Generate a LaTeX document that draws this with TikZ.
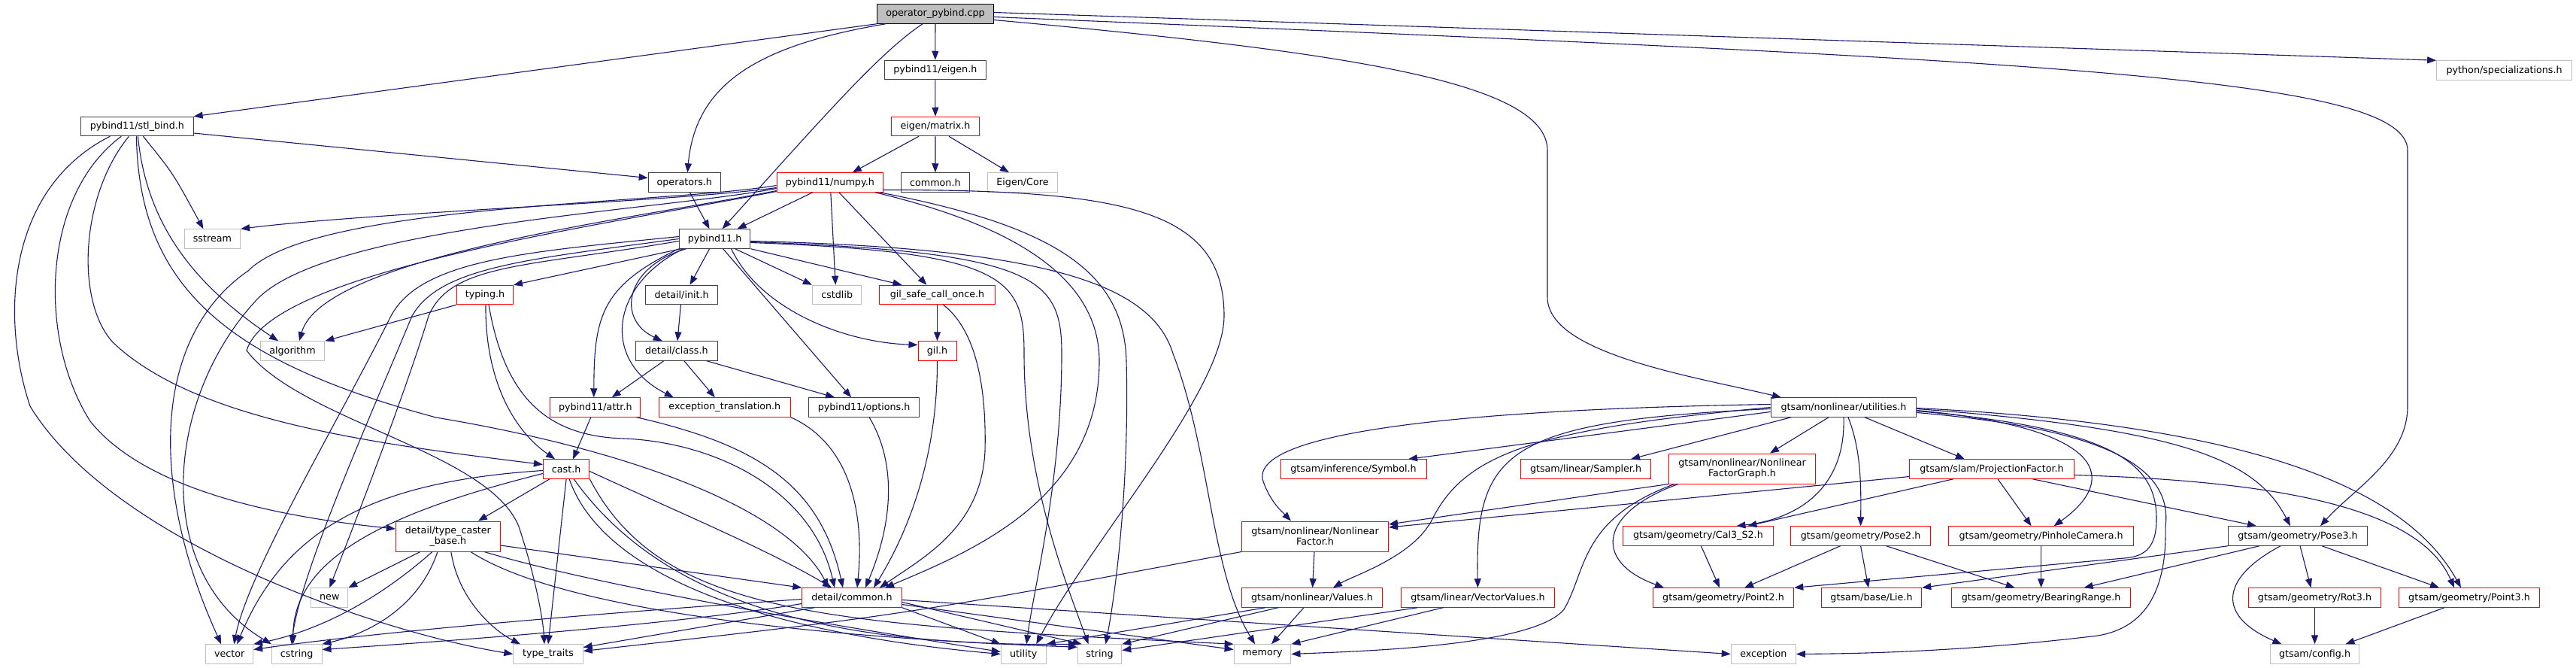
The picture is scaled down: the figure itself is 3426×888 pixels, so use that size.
\documentclass[tikz,border=0pt]{standalone}
\usepackage{fontspec}
\setmainfont{DejaVu Sans}
\usetikzlibrary{arrows.meta}
\definecolor{edgeblue}{HTML}{191970}
\definecolor{docgray}{HTML}{404040}
\definecolor{extgray}{HTML}{BFBFBF}
\definecolor{truncred}{HTML}{FF0000}
\tikzset{
	filebox/.style={rectangle, draw=docgray, fill=white, line width=1pt, inner sep=0pt,
		minimum height=25.5pt, align=center, font={\fontsize{12.7}{14}\selectfont}},
	rootbox/.style={filebox, draw=black, fill=extgray},
	redbox/.style={filebox, draw=truncred},
	extbox/.style={filebox, draw=extgray},
	incl/.style={-{Triangle[length=12pt, width=9pt]}, draw=edgeblue, line width=1.1pt}
}
\begin{document}
\begin{tikzpicture}[x=1pt, y=-1pt]
			\useasboundingbox (0,0) rectangle (3426,888);
			\fill[white] (0,0) rectangle (3426,888);
			% pybind11 side
			\node[rootbox, minimum width=155pt] (op) at (1244,18.5) {operator\_pybind.cpp};
			\node[filebox, minimum width=135pt] (eigenh) at (1243.8,93) {pybind11/eigen.h};
			\node[extbox, minimum width=180pt] (spec) at (3330.6,93.5) {python/specializations.h};
			\node[filebox, minimum width=149.5pt] (stlbind) at (182.4,168) {pybind11/stl\_bind.h};
			\node[redbox, minimum width=117.7pt] (matrix) at (1244,168) {eigen/matrix.h};
			\node[filebox, minimum width=96.2pt] (operators) at (910.3,242.5) {operators.h};
			\node[redbox, minimum width=141.3pt] (numpy) at (1103.8,242.5) {pybind11/numpy.h};
			\node[filebox, minimum width=91pt] (commonh) at (1243.9,242.5) {common.h};
			\node[extbox, minimum width=92.4pt] (eigencore) at (1360,242.5) {Eigen/Core};
			\node[extbox, minimum width=74.4pt] (sstream) at (282.4,317.5) {sstream};
			\node[filebox, minimum width=94.7pt] (pybind) at (950.6,317.5) {pybind11.h};
			\node[redbox, minimum width=75pt] (typing) at (645,392) {typing.h};
			\node[filebox, minimum width=96.2pt] (dinit) at (906.6,392) {detail/init.h};
			\node[extbox, minimum width=65.5pt] (cstdlib) at (1113.2,392) {cstdlib};
			\node[redbox, minimum width=154pt] (gilsafe) at (1246.5,392) {gil\_safe\_call\_once.h};
			\node[extbox, minimum width=85.8pt] (algorithm) at (389,466.5) {algorithm};
			\node[filebox, minimum width=108.4pt] (dclass) at (899.8,466.5) {detail/class.h};
			\node[redbox, minimum width=51pt] (gil) at (1246.5,466.5) {gil.h};
			\node[redbox, minimum width=120.3pt] (attr) at (791.8,541.5) {pybind11/attr.h};
			\node[redbox, minimum width=175pt] (exctrans) at (963.8,541.5) {exception\_translation.h};
			\node[filebox, minimum width=146.8pt] (options) at (1149.1,541.5) {pybind11/options.h};
			\node[redbox, minimum width=61.4pt] (cast) at (753.1,623.5) {cast.h};
			\node[redbox, minimum width=139pt, minimum height=40pt] (tcb) at (595.9,713) {detail/type\_caster\\\_base.h};
			\node[redbox, minimum width=132.4pt] (dcommon) at (1133,794.5) {detail/common.h};
			\node[extbox, minimum width=48.8pt] (newh) at (438.3,794.5) {new};
			\node[extbox, minimum width=62.9pt] (vector) at (305.2,869.5) {vector};
			\node[extbox, minimum width=66.6pt] (cstring) at (394.7,869.5) {cstring};
			\node[extbox, minimum width=92.5pt] (tt) at (729,869.5) {type\_traits};
			\node[extbox, minimum width=60pt] (utility) at (1361.2,869.5) {utility};
			\node[extbox, minimum width=58.5pt] (strh) at (1462.5,869.5) {string};
			\node[extbox, minimum width=75.8pt] (memory) at (1679,869.5) {memory};
			\node[extbox, minimum width=86.2pt] (exception) at (2345.3,869.5) {exception};
			% gtsam side
			\node[filebox, minimum width=193.8pt] (util) at (2452,541.5) {gtsam/nonlinear/utilities.h};
			\node[redbox, minimum width=194pt] (symbol) at (1800,623.5) {gtsam/inference/Symbol.h};
			\node[redbox, minimum width=173pt] (sampler) at (2109,623.5) {gtsam/linear/Sampler.h};
			\node[redbox, minimum width=194.6pt, minimum height=40pt] (nfg) at (2317,623) {gtsam/nonlinear/Nonlinear\\FactorGraph.h};
			\node[redbox, minimum width=218.2pt] (proj) at (2649,623.5) {gtsam/slam/ProjectionFactor.h};
			\node[redbox, minimum width=195pt, minimum height=40pt] (nlf) at (1749,713) {gtsam/nonlinear/Nonlinear\\Factor.h};
			\node[redbox, minimum width=199.3pt] (cal3) at (2258.4,712.5) {gtsam/geometry/Cal3\_S2.h};
			\node[redbox, minimum width=185.7pt] (pose2) at (2474.6,712.5) {gtsam/geometry/Pose2.h};
			\node[redbox, minimum width=245.6pt] (pinhole) at (2714.6,712.5) {gtsam/geometry/PinholeCamera.h};
			\node[filebox, minimum width=185.3pt] (pose3) at (3056,712.5) {gtsam/geometry/Pose3.h};
			\node[redbox, minimum width=187pt] (values) at (1745,794.5) {gtsam/nonlinear/Values.h};
			\node[redbox, minimum width=203.8pt] (vecvalues) at (1965.4,794.5) {gtsam/linear/VectorValues.h};
			\node[redbox, minimum width=187.5pt] (point2) at (2292,794.5) {gtsam/geometry/Point2.h};
			\node[redbox, minimum width=133.5pt] (lie) at (2489,794.5) {gtsam/base/Lie.h};
			\node[redbox, minimum width=238.2pt] (bearing) at (2714.6,794.5) {gtsam/geometry/BearingRange.h};
			\node[redbox, minimum width=176.4pt] (rot3) at (3078.5,794.5) {gtsam/geometry/Rot3.h};
			\node[redbox, minimum width=187.2pt] (point3) at (3284,794.5) {gtsam/geometry/Point3.h};
			\node[extbox, minimum width=118.8pt] (config) at (3078.5,869.5) {gtsam/config.h};
			% root
			\draw[incl] (op.south west) -- (stlbind.north east);
			\draw[incl] ([xshift=12pt]op.south west) .. controls (1010,60) and (925,110) .. ([xshift=4pt]operators.north);
			\draw[incl] ([xshift=-17pt]op.south) .. controls (1170,70) and (1100,150) .. ([xshift=10pt]pybind.north);
			\draw[incl] (op) -- (eigenh);
			\draw[incl] ([yshift=2pt]op.east) -- (spec.north west);
			\draw[incl] ([yshift=-8pt]op.east) .. controls (1800,70) and (2058,110) .. (2058,200) -- (2058,395) .. controls (2058,470) and (2250,500) .. ([xshift=-83pt]util.north);
			\draw[incl] ([yshift=-4pt]op.east) .. controls (2700,80) and (3202,100) .. (3202,200) -- (3202,540) .. controls (3202,610) and (3130,650) .. ([xshift=30pt]pose3.north);
			\draw[incl] (eigenh) -- (matrix);
			\draw[incl] ([xshift=-22pt]matrix.south) -- ([xshift=30pt]numpy.north);
			\draw[incl] (matrix) -- (commonh);
			\draw[incl] ([xshift=18pt]matrix.south) -- ([xshift=-18pt]eigencore.north);
			\draw[incl] (operators) -- (pybind);
			% stl_bind
			\draw[incl] ([yshift=-9pt]stlbind.east) -- ([yshift=6pt]operators.west);
			\draw[incl] ([xshift=8pt]stlbind.south) .. controls (230,230) .. ([xshift=-12pt]sstream.north);
			\draw[incl] ([xshift=1pt]stlbind.south) .. controls (195,300) and (260,380) .. ([xshift=-19pt]algorithm.north);
			\draw[incl] ([xshift=-1pt]stlbind.south) .. controls (185,380) and (300,480) .. (580,555) .. controls (850,600) and (1050,680) .. ([xshift=-31pt]dcommon.north);
			\draw[incl] ([xshift=-11pt]stlbind.south) .. controls (107,260) and (100,400) .. (150,455) .. controls (260,560) and (500,590) .. ([yshift=6pt]cast.west);
			\draw[incl] ([xshift=-21pt]stlbind.south) .. controls (55,260) and (50,450) .. (120,560) .. controls (200,660) and (400,690) .. ([yshift=10pt]tcb.west);
			\draw[incl] ([xshift=-36pt]stlbind.south) .. controls (10,250) and (0,420) .. (40,540) .. controls (150,720) and (500,840) .. (tt.west);
			% numpy
			\draw[incl] ([xshift=-23pt]numpy.south) -- ([xshift=30pt]pybind.north);
			\draw[incl] ([xshift=1pt]numpy.south) -- ([xshift=-2pt]cstdlib.north);
			\draw[incl] ([xshift=12pt]numpy.south) -- ([xshift=-14pt]gilsafe.north);
			\draw[incl] ([yshift=-7pt]numpy.west) .. controls (900,268) and (500,282) .. (sstream.north east);
			\draw[incl] ([yshift=-11pt]numpy.west) .. controls (850,290) and (430,340) .. ([xshift=9pt]algorithm.north);
			\draw[incl] ([yshift=-4pt]numpy.west) .. controls (880,272) and (420,270) .. (330,360) .. controls (200,450) and (200,650) .. ([xshift=-11pt]vector.north);
			\draw[incl] ([yshift=-8pt]numpy.west) .. controls (880,280) and (430,300) .. (340,400) .. controls (220,530) and (200,760) .. (cstring.north west);
			\draw[incl] ([yshift=-12pt]numpy.west) .. controls (800,300) and (360,360) .. (328,466) .. controls (400,560) and (650,600) .. (690,700) .. controls (710,760) and (722,820) .. ([xshift=-5pt]tt.north);
			\draw[incl] ([yshift=-10pt]numpy.east) .. controls (1500,252) and (1628,280) .. (1628,420) .. controls (1628,520) and (1450,720) .. ([xshift=17pt]utility.north);
			\draw[incl] ([xshift=66pt]numpy.south) .. controls (1400,300) and (1495,360) .. (1498,480) .. controls (1502,640) and (1485,780) .. ([xshift=8pt]strh.north);
			\draw[incl] ([xshift=60pt]numpy.south) .. controls (1350,300) and (1462,370) .. (1462,480) .. controls (1462,660) and (1300,730) .. ([xshift=44pt]dcommon.north);
			% pybind11.h
			\draw[incl] ([xshift=3pt]pybind.south west) -- (typing.north east);
			\draw[incl] ([xshift=-7pt]pybind.south) -- ([xshift=11pt]dinit.north);
			\draw[incl] ([xshift=-38pt]pybind.south) .. controls (830,355) and (820,425) .. ([xshift=-19pt]dclass.north);
			\draw[incl] (pybind.south west) .. controls (800,380) and (790,420) .. ([xshift=-2pt]attr.north);
			\draw[incl] ([xshift=-42pt]pybind.south) .. controls (810,380) and (800,480) .. ([xshift=-68pt]exctrans.north);
			\draw[incl] ([xshift=11pt]pybind.south) -- ([xshift=-17pt]options.north);
			\draw[incl] ([xshift=22pt]pybind.south) .. controls (1010,410) and (1120,455) .. ([yshift=8pt]gil.west);
			\draw[incl] (pybind.south east) -- ([xshift=-47pt]gilsafe.north);
			\draw[incl] ([xshift=27pt]pybind.south) -- (cstdlib.north west);
			\draw[incl] ([yshift=3pt]pybind.west) .. controls (700,335) and (560,345) .. (520,420) .. controls (450,560) and (330,760) .. ([xshift=6pt]vector.north);
			\draw[incl] (pybind.west) .. controls (700,345) and (585,355) .. (548,420) .. controls (490,560) and (400,760) .. ([xshift=-7pt]cstring.north);
			\draw[incl] ([yshift=-3pt]pybind.west) .. controls (700,355) and (600,350) .. (570,420) .. controls (540,520) and (470,700) .. (newh.north);
			\draw[incl] ([yshift=-3pt]pybind.east) .. controls (1400,330) and (1532,380) .. (1560,470) .. controls (1610,600) and (1610,760) .. ([xshift=-10pt]memory.north);
			\draw[incl] ([yshift=-5pt]pybind.east) .. controls (1340,335) and (1362,370) .. (1362,470) .. controls (1362,640) and (1420,780) .. ([xshift=-15pt]strh.north);
			\draw[incl] ([yshift=-4pt]pybind.east) .. controls (1380,335) and (1412,370) .. (1412,470) .. controls (1412,640) and (1375,780) .. ([xshift=4pt]utility.north);
			% typing, detail, gil
			\draw[incl] (typing.south west) -- (algorithm.north east);
			\draw[incl] ([xshift=1pt]typing.south) .. controls (645,500) and (680,570) .. ([xshift=-15pt]cast.north);
			\draw[incl] ([xshift=5pt]typing.south) .. controls (670,520) and (720,580) .. (830,583) .. controls (950,588) and (1080,650) .. ([xshift=-23pt]dcommon.north);
			\draw[incl] (dinit) -- (dclass);
			\draw[incl] ([xshift=-17pt]dclass.south) -- ([xshift=22pt]attr.north);
			\draw[incl] ([xshift=10pt]dclass.south) -- ([xshift=-13pt]exctrans.north);
			\draw[incl] ([xshift=40pt]dclass.south) -- ([xshift=-39pt]options.north);
			\draw[incl] (gilsafe) -- (gil);
			\draw[incl] ([xshift=8pt]gilsafe.south) .. controls (1300,440) and (1312,520) .. (1310,600) .. controls (1305,700) and (1230,740) .. ([xshift=37pt]dcommon.north);
			\draw[incl] (gil.south) .. controls (1247,620) and (1200,720) .. ([xshift=29pt]dcommon.north);
			\draw[incl] ([xshift=7pt]options.south) .. controls (1195,620) and (1185,700) .. ([xshift=18pt]dcommon.north);
			\draw[incl] (exctrans.south east) .. controls (1130,590) and (1150,680) .. ([xshift=7pt]dcommon.north);
			\draw[incl] ([xshift=55pt]attr.south) .. controls (1000,590) and (1090,640) .. ([xshift=-12pt]dcommon.north);
			\draw[incl] ([xshift=-6pt]attr.south) -- ([xshift=9pt]cast.north);
			% cast.h
			\draw[incl] ([xshift=-22pt]cast.south) -- ([xshift=40pt]tcb.north);
			\draw[incl] (cast.south) -- (tt.north);
			\draw[incl] ([yshift=-2pt]cast.west) .. controls (500,640) and (380,700) .. ([xshift=10pt]vector.north);
			\draw[incl] ([yshift=-6pt]cast.west) .. controls (520,680) and (390,740) .. ([xshift=-5pt]cstring.north);
			\draw[incl] ([xshift=4pt]cast.south) .. controls (800,760) and (1000,840) .. (utility.west);
			\draw[incl] ([xshift=10pt]cast.south) .. controls (880,800) and (1100,860) .. (strh.north west);
			\draw[incl] (cast.south east) .. controls (880,820) and (1100,830) .. (memory.north west);
			\draw[incl] ([yshift=-3pt]cast.east) .. controls (900,680) and (1020,730) .. ([xshift=-27pt]dcommon.north);
			% type_caster_base
			\draw[incl] ([xshift=-37pt]tcb.south) -- (newh.north east);
			\draw[incl] ([xshift=-21pt]tcb.south) .. controls (500,800) and (420,840) .. (vector.north east);
			\draw[incl] ([xshift=-14pt]tcb.south) .. controls (560,800) and (500,840) .. (cstring.north east);
			\draw[incl] ([xshift=4pt]tcb.south) .. controls (610,800) and (660,840) .. ([xshift=-37pt]tt.north);
			\draw[incl] ([yshift=-12pt]tcb.east) -- (dcommon.north west);
			\draw[incl] ([xshift=48pt]tcb.south) .. controls (800,780) and (1100,830) .. ([yshift=3pt]utility.west);
			\draw[incl] ([xshift=30pt]tcb.south) .. controls (760,820) and (1150,850) .. ([yshift=-4pt]strh.north west);
			% detail/common.h
			\draw[incl] ([yshift=-2pt]dcommon.west) .. controls (800,815) and (500,840) .. ([yshift=6pt]vector.east);
			\draw[incl] ([yshift=-8pt]dcommon.west) .. controls (900,830) and (600,852) .. ([yshift=6pt]cstring.east);
			\draw[incl] ([xshift=-50pt]dcommon.south) -- ([yshift=9pt]tt.east);
			\draw[incl] (dcommon.south east) -- (utility.north west);
			\draw[incl] ([yshift=-6pt]dcommon.east) -- ([xshift=6pt]strh.north west);
			\draw[incl] ([yshift=-9pt]dcommon.east) -- ([yshift=6pt]memory.west);
			\draw[incl] ([yshift=-3pt]dcommon.east) -- (exception.west);
			% utilities.h
			\draw[incl] ([yshift=-6pt]util.west) -- ([xshift=73pt]symbol.north);
			\draw[incl] ([xshift=-70pt]util.south) -- ([xshift=60pt]sampler.north);
			\draw[incl] ([xshift=-20pt]util.south) -- ([xshift=37pt]nfg.north);
			\draw[incl] ([xshift=28pt]util.south) -- ([xshift=-36pt]proj.north);
			\draw[incl] (util.south) .. controls (2455,650) and (2390,690) .. ([xshift=51pt]cal3.north);
			\draw[incl] ([xshift=6pt]util.south) .. controls (2476,600) and (2475,650) .. (pose2.north);
			\draw[incl] ([yshift=-4pt]util.east) .. controls (2810,570) and (2815,640) .. ([xshift=17pt]pinhole.north);
			\draw[incl] ([yshift=-2pt]util.east) .. controls (2900,570) and (3000,610) .. ([xshift=-10pt]pose3.north);
			\draw[incl] ([yshift=-1pt]util.east) .. controls (3000,565) and (3200,650) .. ([xshift=-11pt]point3.north);
			\draw[incl] ([yshift=-7pt]util.east) .. controls (2800,570) and (2890,620) .. (2880,700) .. controls (2882,790) and (2850,835) .. (2790,845) .. controls (2600,868) and (2450,869) .. (exception.east);
			\draw[incl] ([yshift=-5pt]util.east) .. controls (2820,570) and (2868,620) .. (2868,690) .. controls (2868,725) and (2855,740) .. (2825,742) -- (point2.north east);
			\draw[incl] ([yshift=4pt]util.west) .. controls (1900,545) and (1660,580) .. (1680,640) .. controls (1690,668) and (1705,680) .. ([xshift=-32pt]nlf.north);
			\draw[incl] (util.west) .. controls (2050,570) and (1950,600) .. (1905,690) .. controls (1880,740) and (1800,765) .. ([xshift=28pt]values.north);
			\draw[incl] ([yshift=-2pt]util.west) .. controls (2000,560) and (1962,600) .. (vecvalues.north);
			% factor graphs
			\draw[incl] (nfg.south west) -- ([yshift=16pt]nlf.east);
			\draw[incl] ([xshift=-85pt]nfg.south) .. controls (2130,680) and (2115,745) .. ([xshift=-79pt]point2.north);
			\draw[incl] ([xshift=-90pt]nfg.south) .. controls (2100,690) and (2110,760) .. (2080,810) .. controls (2040,860) and (1800,866) .. (memory.east);
			\draw[incl] ([yshift=-10pt]proj.west) -- ([yshift=12pt]nlf.east);
			\draw[incl] ([xshift=-51pt]proj.south) -- ([xshift=66pt]cal3.north);
			\draw[incl] ([xshift=8pt]proj.south) -- ([xshift=-13pt]pinhole.north);
			\draw[incl] ([xshift=54pt]proj.south) -- ([xshift=-55pt]pose3.north);
			\draw[incl] ([yshift=-8pt]proj.east) .. controls (3050,640) and (3220,680) .. ([xshift=-20pt]point3.north);
			\draw[incl] (nlf) -- (values);
			\draw[incl] (nlf.south west) .. controls (1200,818) .. ([yshift=4pt]tt.east);
			\draw[incl] ([xshift=-45pt]values.south) -- (strh.north east);
			\draw[incl] ([xshift=-62pt]values.south) -- (utility.north east);
			\draw[incl] ([xshift=-11pt]values.south) -- ([xshift=12pt]memory.north);
			\draw[incl] ([xshift=-80pt]vecvalues.south) -- ([yshift=5pt]strh.east);
			\draw[incl] ([xshift=-46pt]vecvalues.south) -- (memory.north east);
			% geometry
			\draw[incl] ([xshift=4pt]cal3.south) -- ([xshift=-5pt]point2.north);
			\draw[incl] ([xshift=-27pt]pose2.south) -- ([xshift=28pt]point2.north);
			\draw[incl] (pose2.south) -- ([xshift=-4pt]lie.north);
			\draw[incl] ([xshift=34pt]pose2.south) -- ([xshift=-35pt]bearing.north);
			\draw[incl] (pinhole) -- (bearing);
			\draw[incl] (pose3.south west) -- (lie.north east);
			\draw[incl] ([xshift=-51pt]pose3.south) -- ([xshift=57pt]bearing.north);
			\draw[incl] ([xshift=3pt]pose3.south) -- ([xshift=-5pt]rot3.north);
			\draw[incl] ([xshift=32pt]pose3.south) -- ([xshift=-40pt]point3.north);
			\draw[incl] ([xshift=-23pt]pose3.south) .. controls (2950,770) and (2950,820) .. ([xshift=-44pt]config.north);
			\draw[incl] (rot3) -- (config);
			\draw[incl] ([xshift=-33pt]point3.south) -- ([xshift=41pt]config.north);
		\end{tikzpicture}
\end{document}
